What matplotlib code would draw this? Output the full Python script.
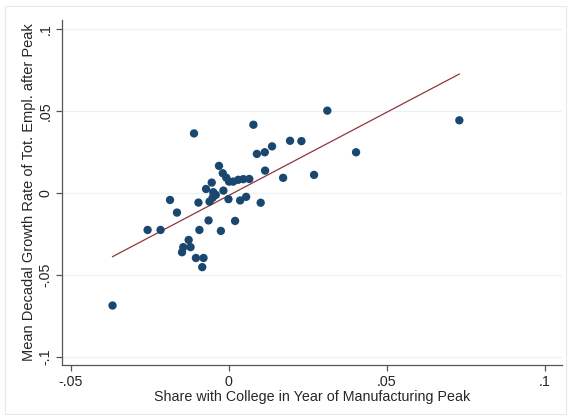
import matplotlib
matplotlib.use("Agg")
import matplotlib.pyplot as plt
from matplotlib.patches import Rectangle
import numpy as np

plt.rcParams['font.family'] = ['Liberation Sans', 'DejaVu Sans']

# Share with college in year of manufacturing peak (deviation)
college_share = [
    -0.0368, -0.0257, -0.0216, -0.0186, -0.0164, -0.0110, -0.0096, -0.0093,
    -0.0127, -0.0144, -0.0121, -0.0148, -0.0104, -0.0080, -0.0084, -0.0064,
    -0.0025, 0.0020, -0.0061, -0.0072, -0.0054, -0.0049, -0.0041, -0.0051,
    -0.0031, -0.0019, -0.0008, 0.0001, 0.0014, 0.0030, 0.0046, 0.0065,
    -0.0017, -0.0001, 0.0036, 0.0055, 0.0101, 0.0089, 0.0078, 0.0115,
    0.0137, 0.0114, 0.0172, 0.0194, 0.0230, 0.0270, 0.0312, 0.0403,
    0.0730,
]

# Mean decadal growth rate of total employment after the peak
growth_rate = [
    -0.0687, -0.0226, -0.0226, -0.0043, -0.0120, 0.0363, -0.0059, -0.0226,
    -0.0287, -0.0331, -0.0331, -0.0362, -0.0397, -0.0397, -0.0453, -0.0168,
    -0.0232, -0.0171, -0.0053, 0.0024, 0.0063, 0.0004, -0.0012, -0.0029,
    0.0165, 0.0120, 0.0093, 0.0069, 0.0069, 0.0080, 0.0084, 0.0085,
    0.0014, -0.0038, -0.0046, -0.0024, -0.0060, 0.0238, 0.0416, 0.0136,
    0.0284, 0.0248, 0.0092, 0.0318, 0.0316, 0.0110, 0.0502, 0.0248,
    0.0443,
]

# Linear fit coefficients (intercept, slope)
fit_intercept = -0.00155
fit_slope = 1.015

x_ticks = [-0.05, 0, 0.05, 0.1]
x_tick_labels = ["-.05", "0", ".05", ".1"]
y_ticks = [-0.1, -0.05, 0, 0.05, 0.1]
y_tick_labels = ["-.1", "-.05", "0", ".05", ".1"]

navy = "#1a476f"
maroon = "#90353b"
grid_col = "#eaf2f3"
axis_col = "#555555"
text_col = "#262626"

fig = plt.figure(figsize=(5.71, 4.19), dpi=100)
fig.patch.set_facecolor("white")
# Outer graph-region outline
fig.add_artist(Rectangle((5 / 571, 5 / 419), 561 / 571, 408 / 419,
                         transform=fig.transFigure, fill=False,
                         edgecolor="#e3ebed", linewidth=0.8))

ax = fig.add_axes([62 / 571, 54 / 419, 500 / 571, 345 / 419])
ax.set_xlim(-0.0528, 0.1055)
ax.set_ylim(-0.105, 0.1055)

for yt in y_ticks:
    ax.axhline(yt, color=grid_col, linewidth=0.9, zorder=0)

ax.scatter(college_share, growth_rate, s=36, color=navy, edgecolors="none",
           zorder=3)

xs = np.array([min(college_share), max(college_share)])
ax.plot(xs, fit_intercept + fit_slope * xs, color=maroon, linewidth=0.9,
        zorder=2)

ax.set_xticks(x_ticks)
ax.set_xticklabels(x_tick_labels)
ax.set_yticks(y_ticks)
ax.set_yticklabels(y_tick_labels, rotation=90, va="center")

for side in ("top", "right"):
    ax.spines[side].set_visible(False)
for side in ("left", "bottom"):
    ax.spines[side].set_color(axis_col)
    ax.spines[side].set_linewidth(0.9)

ax.tick_params(axis="both", direction="out", length=4, width=0.9,
               color=axis_col, labelsize=10.3, labelcolor=text_col, pad=3)

ax.set_xlabel("Share with College in Year of Manufacturing Peak",
              fontsize=10.3, color=text_col, labelpad=1)
ax.set_ylabel("Mean Decadal Growth Rate of Tot. Empl. after Peak",
              fontsize=10.5, color=text_col, labelpad=1.5)

fig.savefig("out.png", dpi=100, facecolor="white")
